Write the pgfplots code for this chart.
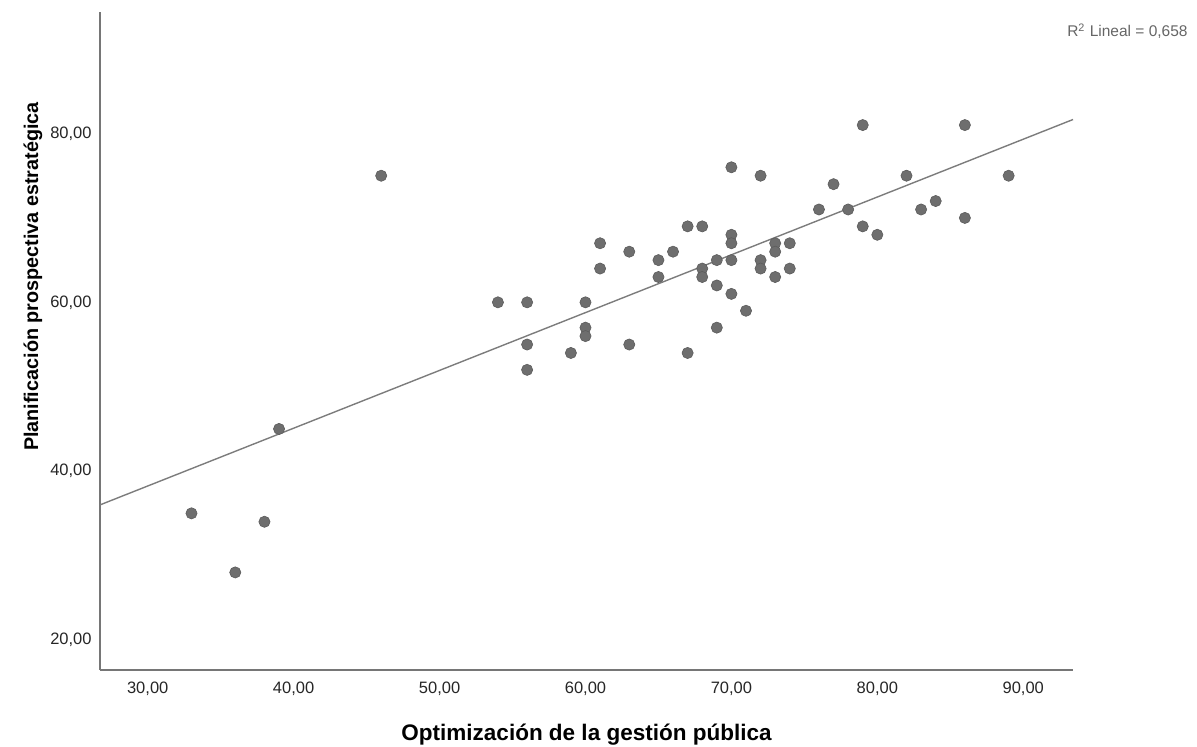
\documentclass[border=0pt]{standalone}
\usepackage{fontspec}
\setmainfont{Liberation Sans}
\usepackage{pgfplots}
\pgfplotsset{compat=1.18}
\definecolor{ptfill}{HTML}{6E6E6E}
\definecolor{ptdraw}{HTML}{5C5C5C}
\definecolor{fitline}{HTML}{7C7C7C}
\definecolor{axline}{HTML}{767676}
\begin{document}
\begin{tikzpicture}
\path[use as bounding box] (-50pt,-38.5pt) rectangle (548.5pt,335pt);
\begin{axis}[
  at={(0,0)}, anchor=south west,
  scale only axis,
  width=486.5pt, height=329pt,
  xmin=26.73, xmax=93.41,
  ymin=16.44, ymax=94.4,
  axis x line*=bottom, axis y line*=left,
  axis line style={color=axline, line width=0.9pt},
  major tick length=0pt,
  xtick={30,40,50,60,70,80,90},
  xticklabels={{30,00},{40,00},{50,00},{60,00},{70,00},{80,00},{90,00}},
  ytick={20,40,60,80},
  yticklabels={{20,00},{40,00},{60,00},{80,00}},
  tick label style={font=\fontsize{8.25pt}{10pt}\selectfont, text=black!85},
  xticklabel style={inner sep=0pt, anchor=north, yshift=-6pt},
  yticklabel style={inner sep=0pt, anchor=east, xshift=-4pt},
  xlabel={Optimización de la gestión pública},
  ylabel={Planificación prospectiva estratégica},
  xlabel style={font=\fontsize{11.25pt}{13pt}\selectfont\bfseries, at={(axis description cs:0.5,-0.1079)}, anchor=base, inner sep=0pt},
  ylabel style={font=\fontsize{9.9pt}{12pt}\selectfont\bfseries, at={(axis description cs:-0.0637,0.598)}, anchor=base, inner sep=0pt},
  clip=false,
]
\addplot[fitline, line width=0.7pt] coordinates {(26.73,36.0) (93.41,81.66)};
\addplot[only marks, mark=*, mark size=2.8pt, mark options={fill=ptfill, draw=ptdraw, line width=0.3pt}] coordinates {
(33,35) (36,28) (38,34) (39,45) (46,75)
(54,60) (56,60) (56,55) (56,52) (59,54)
(60,60) (60,57) (60,56) (61,67) (61,64)
(63,66) (63,55) (65,65) (65,63) (66,66)
(67,69) (67,54) (68,69) (68,64) (68,63)
(69,65) (69,62) (69,57) (70,76) (70,68)
(70,67) (70,65) (70,61) (71,59) (72,75)
(72,65) (72,64) (73,67) (73,66) (73,63)
(74,67) (74,64) (76,71) (77,74) (78,71)
(79,81) (79,69) (80,68) (82,75) (83,71)
(84,72) (86,81) (86,70) (89,75)
};
\node[anchor=base east, inner sep=0pt, text=black!60, font=\fontsize{7.75pt}{9pt}\selectfont] at (rel axis cs:1.1182,0.9625) {R\textsuperscript{2} Lineal = 0,658};
\end{axis}
\end{tikzpicture}
\end{document}
